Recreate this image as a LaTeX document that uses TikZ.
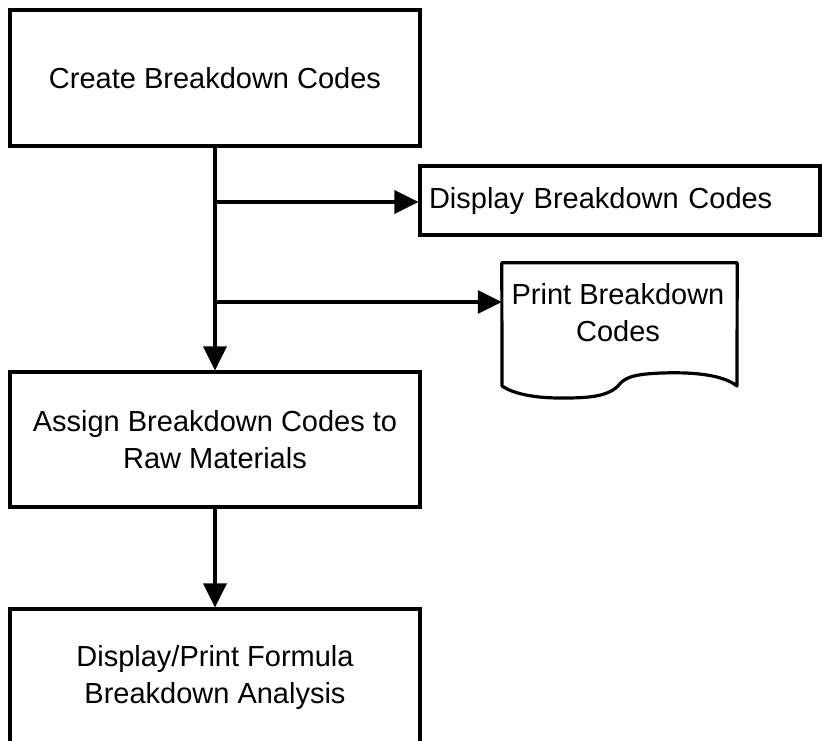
\documentclass[tikz,border=0pt]{standalone}
\usepackage{fontspec}
\setmainfont{Liberation Sans}
\usetikzlibrary{arrows.meta}
\begin{document}
\begin{tikzpicture}[x=1pt,y=-1pt,
  txt/.style={font=\fontsize{29}{37}\selectfont, align=center, inner sep=0pt},
  box/.style={txt, draw, line width=3.2pt, rectangle},
  conn/.style={line width=3.2pt, -{Triangle[length=24pt,width=23pt]}},
  plain/.style={line width=3.2pt}]
\clip (0,0) rectangle (822,740);
\fill[white] (0,0) rectangle (822,740);

\node[box, minimum width=410pt, minimum height=136pt] (create) at (215,78) {Create Breakdown Codes};
\node[box, minimum width=410pt, minimum height=135pt] (assign) at (215,439.5) {Assign Breakdown Codes to\\Raw Materials};
\node[box, minimum width=410pt, minimum height=136pt] (report) at (215,677) {Display/Print Formula\\Breakdown Analysis};

\node[box, align=left, text width=382pt, inner xsep=9pt, minimum height=69pt] (display) at (620,200.5) {Display Breakdown Codes};

% document shape
\node[inner sep=0pt, minimum width=235pt, minimum height=123pt] (doc) at (619.5,324.5) {};
\draw[line width=3.2pt, line join=round]
  (doc.north west) -- (doc.north east) -- (737,386)
  .. controls (722,374) and (690,372) .. (662,373)
  .. controls (632,374) and (624,378) .. (618,386)
  .. controls (606,398) and (582,398) .. (560,398)
  .. controls (532,398) and (512,393) .. (502,386) -- cycle;
\node[txt] (doctext) at (618,313) {Print Breakdown\\Codes};

\coordinate (b1) at (create.south |- 0,202);
\coordinate (b2) at (create.south |- 0,302);

\draw[conn] (create.south) -- (assign.north);
\draw[conn] (b1) -- (display.west |- b1);
\draw[conn] (b2) -- (doc.west |- b2);
\draw[conn] (assign.south) -- (report.north);
\end{tikzpicture}
\end{document}
